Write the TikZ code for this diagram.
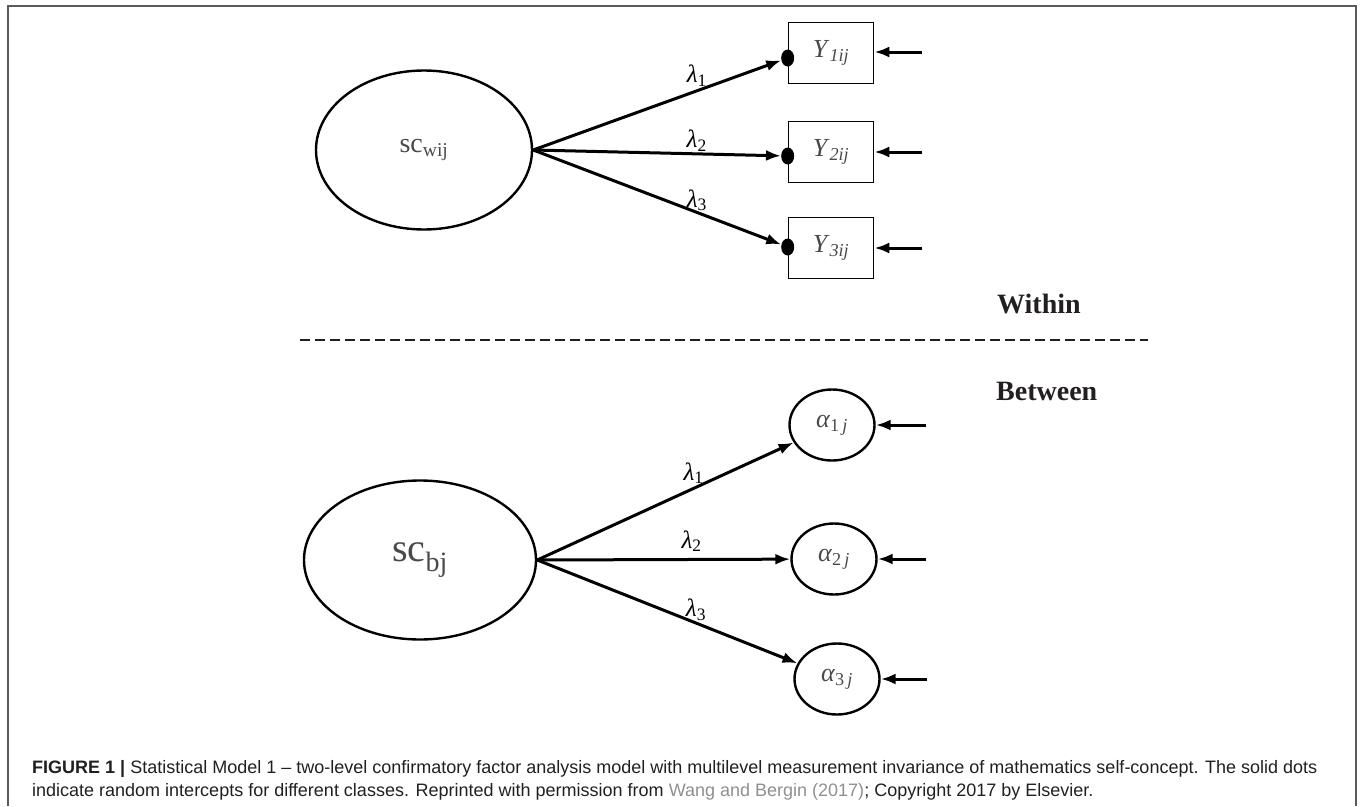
\documentclass[tikz,border=0pt]{standalone}
\usepackage{fontspec}
\setmainfont{Liberation Serif}
\setsansfont{Liberation Sans}
\usetikzlibrary{shapes.geometric,arrows.meta}
\definecolor{framegray}{HTML}{5A5A5A}
\definecolor{labelgray}{HTML}{4A4A4A}
\definecolor{linkgray}{HTML}{8F8F8F}
\definecolor{captext}{HTML}{231F20}
\tikzset{
  latent/.style={draw, ellipse, line width=2.4pt, inner sep=0pt, text=labelgray},
  obsbox/.style={draw, rectangle, line width=1.6pt, minimum width=85pt, minimum height=61pt, inner sep=0pt, text=labelgray},
  intercept/.style={draw, ellipse, line width=2.4pt, minimum width=85pt, minimum height=71pt, inner sep=0pt, text=labelgray},
  rdot/.style={fill=black, ellipse, minimum width=13pt, minimum height=17pt, inner sep=0pt},
  load/.style={line width=3pt, -{Latex[length=15pt,width=11pt]}},
  lam/.style={font=\fontsize{25}{25}\selectfont, inner sep=0pt},
  levellabel/.style={font=\bfseries\fontsize{28}{28}\selectfont, text=captext, inner sep=0pt},
  capline/.style={font=\sffamily\fontsize{18}{20}\selectfont, text=captext, inner sep=0pt}
}
\newcommand{\lam}[1]{\textit{λ}\textsubscript{#1}}
\begin{document}
\begin{tikzpicture}[x=1pt,y=-1pt]
\useasboundingbox (0,0) rectangle (1360,806);
\draw [framegray, line width=2pt] (8,806) -- (8,6) -- (1356,6) -- (1356,806);

\node [latent, minimum width=216pt, minimum height=159pt] (scw) at (424,150) {\fontsize{28}{28}\selectfont sc\textsubscript{wij}};
\node [obsbox] (y1) at (831,53) {\fontsize{26}{26}\selectfont\textit{Y}\textsubscript{\textit{1ij}}};
\node [obsbox] (y2) at (831,152) {\fontsize{26}{26}\selectfont\textit{Y}\textsubscript{\textit{2ij}}};
\node [obsbox] (y3) at (831,248) {\fontsize{26}{26}\selectfont\textit{Y}\textsubscript{\textit{3ij}}};
\node [rdot] (d1) at ([yshift=-5pt]y1.west) {};
\node [rdot] (d2) at ([yshift=-4pt]y2.west) {};
\node [rdot] (d3) at ([yshift=1pt]y3.west) {};
\coordinate (e1) at (922,52);
\coordinate (e2) at (922,152);
\coordinate (e3) at (922,248);
\draw [load] (scw.east) -- node [lam, pos=0.66, above=3pt] {\lam{1}} (d1);
\draw [load] (scw.east) -- node [lam, pos=0.66, above=1pt] {\lam{2}} (d2);
\draw [load] (scw.east) -- node [lam, pos=0.66, above=0pt] {\lam{3}} (d3);
\draw [load] (e1) -- (e1 -| y1.east);
\draw [load] (e2) -- (y2);
\draw [load] (e3) -- (y3);

\node [levellabel, anchor=base west] (within) at (997,313) {Within};
\draw [captext, line width=2.2pt, dash pattern=on 10pt off 5pt] (300,340) -- (1148,340);
\node [levellabel, anchor=base west] (between) at (996,400) {Between};

\node [latent, minimum width=232pt, minimum height=159pt] (scb) at (420,560) {\fontsize{40}{40}\selectfont sc\textsubscript{bj}};
\node [intercept] (a1) at (832,425) {\fontsize{26}{26}\selectfont\textit{α}\textsubscript{1\,\textit{j}}};
\node [intercept] (a2) at (834,559) {\fontsize{26}{26}\selectfont\textit{α}\textsubscript{2\,\textit{j}}};
\node [intercept] (a3) at (837,679) {\fontsize{26}{26}\selectfont\textit{α}\textsubscript{3\,\textit{j}}};
\coordinate (f1) at (926,425);
\coordinate (f2) at (926,559);
\coordinate (f3) at (927,679);
\draw [load] (scb.east) -- node [lam, pos=0.61, above=3pt] {\lam{1}} (a1);
\draw [load] (scb.east) -- node [lam, pos=0.61, above=6pt] {\lam{2}} (a2);
\draw [load] (scb.east) -- node [lam, pos=0.61, above=1pt] {\lam{3}} (a3);
\draw [load] (f1) -- (a1);
\draw [load] (f2) -- (a2);
\draw [load] (f3) -- (a3);

\node [capline, anchor=base west] (cap1) at (32,773) {\textbf{FIGURE 1 |} Statistical Model 1 – two-level confirmatory factor analysis model with multilevel measurement invariance of mathematics self-concept. The solid dots};
\node [capline, anchor=base west] (cap2) at (32,796) {indicate random intercepts for different classes. Reprinted with permission from \textcolor{linkgray}{Wang and Bergin (2017)}; Copyright 2017 by Elsevier.};
\end{tikzpicture}
\end{document}
